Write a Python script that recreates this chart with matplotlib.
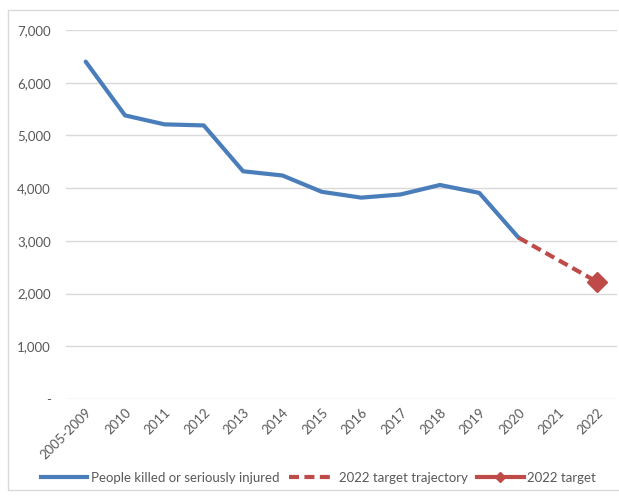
import matplotlib.pyplot as plt
from matplotlib.lines import Line2D
from matplotlib.patches import Rectangle
from matplotlib.ticker import FuncFormatter

plt.rcParams['font.family'] = ['Lato', 'DejaVu Sans']

years = ['2005-2009', '2010', '2011', '2012', '2013', '2014', '2015', '2016',
         '2017', '2018', '2019', '2020', '2021', '2022']
ksi = [6400, 5380, 5210, 5190, 4320, 4240, 3930, 3820, 3880, 4060, 3910, 3060]
trajectory = [3060, 2640, 2220]
target = 2220

blue = '#4A7EBB'
red = '#BE4B48'
grey = '#595959'

fig = plt.figure(figsize=(6.19, 4.97), dpi=100)
fig.patches.append(Rectangle((8 / 619, 1 - 490 / 497), 1, 480 / 497,
                             transform=fig.transFigure, fill=False,
                             edgecolor='#D9D9D9', linewidth=1))
ax = fig.add_axes([66 / 619, 1 - 399 / 497, 551 / 619, 369 / 497])

x = list(range(len(years)))
ax.plot(x[:len(ksi)], ksi, color=blue, linewidth=3, solid_capstyle='round', zorder=3)
ax.plot(x[11:], trajectory, color=red, linewidth=3, linestyle=(0, (2.4, 1.3)), zorder=3)
ax.plot([x[-1]], [target], color=red, marker='D', markersize=10, zorder=4)

ax.set_xlim(-0.5, len(years) - 0.5)
ax.set_ylim(0, 7000)
ax.set_yticks(range(0, 7001, 1000))
ax.yaxis.set_major_formatter(FuncFormatter(lambda v, p: '-' if v == 0 else f'{int(v):,}'))
ax.set_xticks(x)
ax.set_xticklabels(years, rotation=45, ha='right', rotation_mode='anchor')
ax.grid(axis='y', color='#D9D9D9', linewidth=1)
ax.set_axisbelow(True)
for s in ax.spines.values():
    s.set_visible(False)
ax.tick_params(length=0, colors=grey, labelsize=9.5)
ax.tick_params(axis='y', pad=11)
ax.tick_params(axis='x', pad=5)

handles = [Line2D([], [], color=blue, linewidth=3),
           Line2D([], [], color=red, linewidth=3, linestyle=(0, (2.4, 1.3))),
           Line2D([], [], color=red, linewidth=3, marker='D', markersize=5)]
labels = ['People killed or seriously injured', '2022 target trajectory', '2022 target']
fig.legend(handles, labels, loc='center', bbox_to_anchor=(0.515, 1 - 478 / 497),
           ncol=3, frameon=False, fontsize=9.5, labelcolor=grey,
           handlelength=3.5, handletextpad=0.3, columnspacing=0.7)

fig.savefig('out.png', dpi=100)
